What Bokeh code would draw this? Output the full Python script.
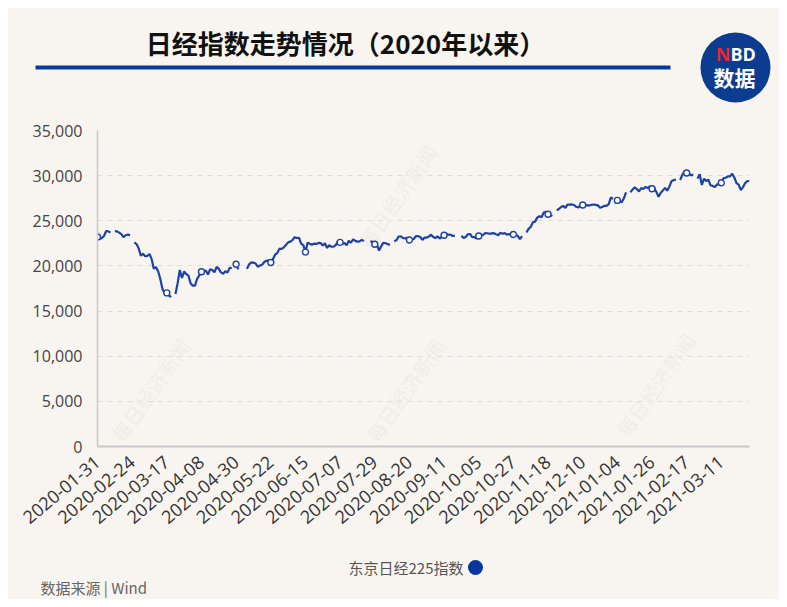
import numpy as np
import pandas as pd
from bokeh.plotting import figure
from bokeh.layouts import column
from bokeh.models import (Range1d, FixedTicker, NumeralTickFormatter,
                          ColumnDataSource, Label)
from bokeh.core.properties import value
from bokeh.embed import file_html
from bokeh.resources import INLINE

# ---------------- data ----------------
# Category axis: weekdays from 2020-01-31 to 2021-03-30 (2021-01-01 not listed)
dates = [d.strftime("%Y-%m-%d") for d in pd.bdate_range("2020-01-31", "2021-03-30")
         if d.strftime("%Y-%m-%d") != "2021-01-01"]

# 东京日经225指数 closes (None = market holiday)
jan20 = [23205]
feb20 = [22972, 23084, 23320, 23873, 23828, 23686, None, 23861, 23828, 23688,
         23523, 23194, 23400, 23479, 23386, None, 22605, 22426, 21948, 21142]
mar20 = [21344, 21082, 21100, 21329, 20749, 19698, 19867, 19416, 18559, 17431,
         17002, 17011, 16726, 16552, None, 16887, 18092, 19546, 18664, 19389,
         19084, 18917]
apr20 = [18065, 17819, 17820, 18576, 18950, 19353, 19345, 19498, 19043, 19638,
         19550, 19290, 19897, 19669, 19281, 19137, 19429, 19262, 19783, 19771,
         None, 20193]
may20 = [19619, None, None, None, 19674, 20179, 20390, 20366, 20267, 19915,
         20037, 20133, 20433, 20595, 20552, 20388, 20741, 21271, 21419, 21916,
         21877]
jun20 = [22062, 22325, 22613, 22695, 22863, 23178, 23091, 23124, 22472, 22305,
         21530, 22582, 22455, 22355, 22478, 22437, 22549, 22534, 22259, 22512,
         21995, 22288]
jul20 = [22121, 22145, 22306, 22714, 22614, 22438, 22529, 22290, 22784, 22587,
         22945, 22770, 22696, 22717, 22884, 22751, None, None, 22715, 22657,
         22397, 22339, 21710]
aug20 = [22195, 22573, 22514, 22418, 22329, None, 22750, 22843, 23249, 23289,
         23096, 23051, 23110, 22880, 22920, 22985, 23296, 23290, 23208, 22882,
         23139]
sep20 = [23138, 23247, 23465, 23205, 23089, 23274, 23032, 23235, 23406, 23559,
         23454, 23475, 23319, 23360, None, None, 23346, 23087, 23204, 23511,
         23539, 23185]
oct20 = [23185, 23029, 23312, 23433, 23422, 23647, 23619, 23558, 23601, 23626,
         23507, 23410, 23671, 23567, 23639, 23474, 23516, 23494, 23485, 23418,
         23331, 22977]
nov20 = [23295, None, 23695, 24105, 24325, 24839, 24905, 25349, 25520, 25385,
         25906, 26014, 25728, 25634, 25527, None, 26165, 26296, 26537, 26644,
         26433]
dec20 = [26787, 26800, 26809, 26751, 26547, 26467, 26817, 26756, 26652, 26732,
         26687, 26757, 26806, 26763, 26714, 26436, 26524, 26668, 26656, 26854,
         27568, 27444, None]
jan21 = [27258, 27158, 27055, 27490, 28139, None, 28164, 28456, 28698, 28519,
         28242, 28633, 28523, 28756, 28631, 28822, 28546, 28635, 28197, 27663]
feb21 = [28091, 28362, 28646, 28341, 28779, 29388, 29505, 29562, None, 29520,
         30084, 30467, 30292, 30236, 30017, 30156, None, 29671, 30168, 28966]
mar21 = [29663, 29408, 29559, 28930, 28864, 28743, 29028, 29036, 29211, 29717,
         29766, 29921, 29914, 30216, 29792, 29174, 28995, 28405, 28729, 29176,
         29384, 29432]

values = (jan20 + feb20 + mar20 + apr20 + may20 + jun20 + jul20 + aug20 + sep20
          + oct20 + nov20 + dec20 + jan21 + feb21 + mar21)
n = min(len(dates), len(values))
dates = dates[:n]
values = values[:n]

series_name = "东京日经225指数"
title_text = "日经指数走势情况（2020年以来）"
source_text = "数据来源 | Wind"
logo_top = "BD"
logo_n = "N"
logo_bottom = "数据"
watermark = "每日经济新闻"
y_ticks = [0, 5000, 10000, 15000, 20000, 25000, 30000, 35000]
label_step = 16

# ---------------- styling ----------------
BG = "#F8F5F0"
BLUE = "#1D42A6"
LOGO = "#0B3C8F"
CJK = "Noto Sans CJK SC"
NUM = "Open Sans"
W = 771
H_HEAD, H_MAIN, H_FOOT = 110, 427, 54
WM_COLOR = "#F0ECE7"


def blank(h):
    f = figure(width=W, height=h, x_range=Range1d(0, W), y_range=Range1d(h, 0),
               x_axis_type=None, y_axis_type=None, output_backend="svg",
               toolbar_location=None, min_border=0, frame_align=False,
               background_fill_color=BG, border_fill_color=BG,
               outline_line_color=None)
    f.xgrid.visible = False
    f.ygrid.visible = False
    return f


# ---------------- header ----------------
head = blank(H_HEAD)
head.text(x=[337], y=[34], text=[title_text], text_font=value(CJK),
          text_font_style="bold", text_font_size="26px", text_color="#111111",
          text_align="center", text_baseline="middle")
head.quad(left=[27], right=[662], top=[57], bottom=[61], fill_color="#0A3C96",
          line_color=None)
head.circle(x=[727], y=[59], radius=35, fill_color=LOGO, line_color=None)
head.text(x=[722], y=[45], text=[logo_n], text_font=value(NUM),
          text_font_style="bold", text_font_size="18px", text_color="#E8262C",
          text_align="right", text_baseline="middle")
head.text(x=[722], y=[45], text=[logo_top], text_font=value(NUM),
          text_font_style="bold", text_font_size="18px", text_color="white",
          text_align="left", text_baseline="middle")
head.text(x=[726], y=[68], text=[logo_bottom], text_font=value(CJK),
          text_font_style="bold", text_font_size="21px", text_color="white",
          text_align="center", text_baseline="middle")

# ---------------- main chart ----------------
idx = np.arange(n)
vals = np.array([np.nan if v is None else v for v in values], dtype=float)
src = ColumnDataSource(dict(x=idx, y=vals))

tick_idx = list(range(0, n, label_step))
mk = [i for i in tick_idx if not np.isnan(vals[i])]
msrc = ColumnDataSource(dict(x=mk, y=[vals[i] for i in mk]))

p = figure(width=W, height=H_MAIN, x_range=Range1d(0, n - 1),
           y_range=Range1d(0, 35000), output_backend="svg",
           toolbar_location=None, min_border_left=89, min_border_right=30,
           min_border_top=12, min_border_bottom=99, frame_align=False,
           background_fill_color=BG, border_fill_color=BG,
           outline_line_color=None)

# faint watermarks behind the line (screen units from frame bottom-left)
for (wx, wy) in [(53, 56), (308, 56), (558, 61), (300, 250)]:
    p.add_layout(Label(x=wx, y=wy, x_units="screen", y_units="screen",
                       text=watermark, text_font=CJK, text_font_size="20px",
                       text_color=WM_COLOR, angle=np.deg2rad(55),
                       text_align="center", text_baseline="middle",
                       level="underlay"))

p.line("x", "y", source=src, line_color=BLUE, line_width=2.2)
p.scatter("x", "y", source=msrc, marker="circle", size=6, fill_color="white",
          line_color=BLUE, line_width=1.4)

xa = p.xaxis[0]
xa.ticker = FixedTicker(ticks=tick_idx)
xa.major_label_overrides = {i: dates[i] for i in tick_idx}
xa.major_label_orientation = np.deg2rad(40)
xa.major_label_text_font = NUM
xa.major_label_text_font_size = "18px"
xa.major_label_text_color = "#333333"
xa.major_label_standoff = 7
xa.axis_line_color = "#C8C8C8"
xa.axis_line_width = 2
xa.major_tick_line_color = None
xa.minor_tick_line_color = None

ya = p.yaxis[0]
ya.ticker = FixedTicker(ticks=y_ticks)
ya.formatter = NumeralTickFormatter(format="0,0")
ya.major_label_text_font = NUM
ya.major_label_text_font_size = "16px"
ya.major_label_text_color = "#444444"
ya.major_label_standoff = 9
ya.axis_line_color = "#C8C8C8"
ya.axis_line_width = 1.5
ya.major_tick_line_color = None
ya.minor_tick_line_color = None

p.xgrid.grid_line_color = None
p.ygrid.ticker = FixedTicker(ticks=y_ticks[1:])
p.ygrid.grid_line_color = "#DCDCDC"
p.ygrid.grid_line_dash = "5 5"
p.ygrid.grid_line_width = 1

# ---------------- footer ----------------
foot = blank(H_FOOT)
foot.text(x=[455], y=[22], text=[series_name], text_font=value(CJK),
          text_font_size="15px", text_color="#555555", text_align="right",
          text_baseline="middle")
foot.circle(x=[467], y=[22], radius=7.5, fill_color="#0A36A0", line_color=None)
foot.text(x=[32], y=[42], text=[source_text], text_font=value(CJK),
          text_font_size="15px", text_color="#666666", text_align="left",
          text_baseline="middle")

layout = column(head, p, foot, spacing=0,
                styles={"margin-left": "8px", "margin-top": "8px",
                        "background-color": BG})

open("out.html", "w").write(file_html(layout, INLINE))
